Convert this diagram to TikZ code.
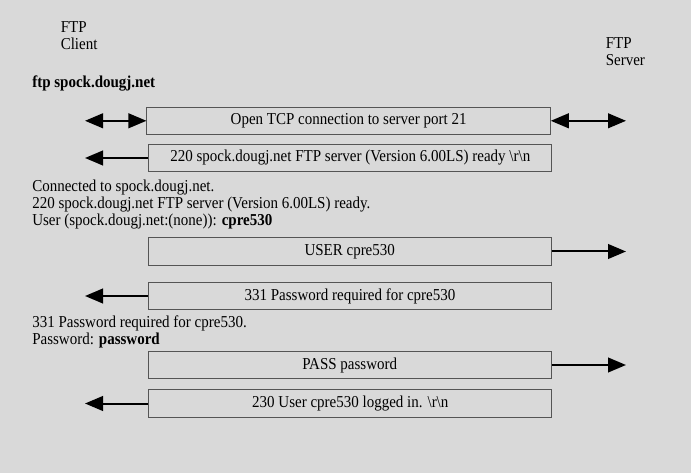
\documentclass[tikz,border=0pt]{standalone}
\usepackage{fontspec}
\setmainfont{Liberation Serif}[FakeStretch=0.9]
\usetikzlibrary{arrows.meta}
\definecolor{bggray}{HTML}{D9D9D9}
\definecolor{boxline}{HTML}{555555}
\tikzset{
  msg/.style={draw=boxline, line width=0.75pt, fill=bggray, inner sep=0pt,
    minimum width=302.5pt, minimum height=20.3pt, font=\fontsize{12.5}{14}\selectfont},
  txt/.style={anchor=base west, inner sep=0pt, font=\fontsize{12.5}{14}\selectfont},
  arr/.style={line width=1.5pt, -{Triangle[length=13.5pt,width=11pt]}},
  darr/.style={line width=1.5pt, {Triangle[length=13.5pt,width=11pt]}-{Triangle[length=13.5pt,width=11pt]}}
}
\begin{document}
\begin{tikzpicture}[x=0.75pt,y=-0.75pt]
  \fill[bggray] (0,0) rectangle (691,473);
  \useasboundingbox (0,0) rectangle (691,473);

  % end points
  \node[txt] (ftp1) at (60.5,32.7) {FTP};
  \node[txt] (cli) at (60.5,50) {Client};
  \node[txt] (ftp2) at (605.5,49) {FTP};
  \node[txt] (srv) at (605.5,66) {Server};
  \node[txt] (cmd) at (32,87.3) {\textbf{ftp spock.dougj.net}};

  % messages
  \node[msg] (open) at (348.6,120.8) {Open TCP connection to server port 21};
  \node[msg] (ready) at (350.3,158) {220 spock.dougj.net FTP server (Version 6.00LS) ready \textbackslash r\textbackslash n};
  \node[txt] (con1) at (32,191.7) {Connected to spock.dougj.net.};
  \node[txt] (con2) at (32,208.7) {220 spock.dougj.net FTP server (Version 6.00LS) ready.};
  \node[txt] (con3) at (32,225.5) {User (spock.dougj.net:(none)): \textbf{cpre530}};
  \node[msg] (user) at (349.7,251.5) {USER cpre530};
  \node[msg] (pwreq) at (350,296) {331 Password required for cpre530};
  \node[txt] (con4) at (32,327.3) {331 Password required for cpre530.};
  \node[txt] (con5) at (32,344.5) {Password: \textbf{password}};
  \node[msg] (pass) at (349.7,365) {PASS password};
  \node[msg] (login) at (350.3,403.5) {230 User cpre530 logged in. \textbackslash r\textbackslash n};

  % arrow ends
  \coordinate (l1) at (85,120.8);
  \coordinate (r1) at (626,120.8);
  \coordinate (l2) at (85,158);
  \coordinate (r3) at (626,251.5);
  \coordinate (l4) at (85,296);
  \coordinate (r5) at (626,365);
  \coordinate (l6) at (85,403.5);

  \draw[darr] (l1) -- (open.west);
  \draw[darr] (open.east) -- (r1);
  \draw[arr] (ready.west) -- (l2);
  \draw[arr] (user.east) -- (r3);
  \draw[arr] (pwreq.west) -- (l4);
  \draw[arr] (pass.east) -- (r5);
  \draw[arr] (login.west) -- (l6);
\end{tikzpicture}
\end{document}
